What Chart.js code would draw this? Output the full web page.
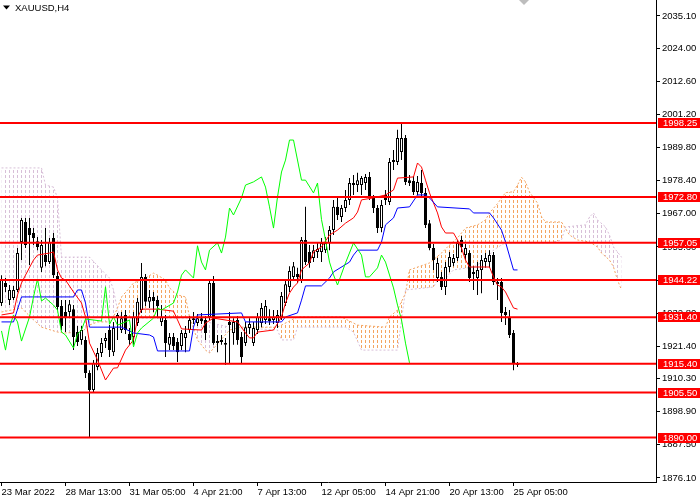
<!DOCTYPE html>
<html>
<head>
<meta charset="utf-8">
<script src="https://cdn.jsdelivr.net/npm/chart.js@4.4.0/dist/chart.umd.min.js"></script>
<style>
  html, body { margin: 0; padding: 0; background: #fff; }
  #wrap { position: relative; width: 700px; height: 500px; }
</style>
</head>
<body>
<div id="wrap"><canvas id="chart" width="700" height="500"></canvas></div>
<script>
// XAUUSD H4, one entry per bar (bar 0 = 23 Mar 2022)
const opens = [
  1936.3, 1943.2, 1937.3, 1938.0, 1940.8, 1957.3, 1964.2, 1962.1, 1960.4, 1957.6,
  1948.4, 1952.8, 1950.4, 1958.7, 1945.6, 1935.3, 1933.2, 1933.2, 1934.2, 1926.3,
  1923.6, 1923.6, 1912.2, 1906.4, 1914.3, 1919.1, 1923.2, 1927.0, 1919.4, 1931.1,
  1927.0, 1932.2, 1925.6, 1924.6, 1929.4, 1933.9, 1945.3, 1936.7, 1938.4, 1937.3,
  1929.8, 1930.5, 1921.9, 1924.6, 1922.9, 1921.5, 1924.3, 1927.0, 1930.5, 1929.4,
  1931.1, 1930.5, 1931.5, 1943.2, 1923.2, 1922.9, 1922.5, 1929.8, 1926.0, 1930.5,
  1924.6, 1922.5, 1927.7, 1922.5, 1927.0, 1929.4, 1930.5, 1931.1, 1930.5, 1929.4,
  1931.5, 1936.3, 1941.8, 1945.3, 1946.3, 1944.2, 1958.0, 1953.9, 1951.8, 1953.9,
  1953.9, 1954.5, 1957.0, 1961.4, 1969.4, 1965.9, 1969.0, 1971.8, 1976.9, 1976.9,
  1976.9, 1977.6, 1979.7, 1972.5, 1969.0, 1962.1, 1973.5, 1971.1, 1984.8, 1984.8,
  1988.3, 1993.1, 1978.6, 1978.3, 1974.5, 1977.6, 1974.2, 1963.8, 1955.2, 1944.9,
  1945.3, 1941.8, 1948.7, 1950.1, 1951.8, 1958.0, 1952.8, 1953.5, 1947.0, 1944.9,
  1947.7, 1950.4, 1950.4, 1952.8, 1943.5, 1943.5, 1933.2, 1931.5, 1926.0, 1915.7
]
const highs = [
  1945.9, 1944.9, 1942.5, 1942.2, 1955.2, 1965.6, 1965.6, 1965.6, 1962.1, 1959.0,
  1958.0, 1962.1, 1958.7, 1960.4, 1947.0, 1937.3, 1937.3, 1937.3, 1935.6, 1928.4,
  1928.4, 1924.9, 1913.2, 1916.7, 1920.8, 1924.3, 1926.0, 1928.7, 1929.8, 1932.9,
  1933.2, 1933.9, 1927.7, 1933.2, 1938.0, 1950.1, 1946.3, 1940.8, 1940.1, 1938.7,
  1935.6, 1932.2, 1926.0, 1926.0, 1924.3, 1927.0, 1928.4, 1931.8, 1933.2, 1932.5,
  1932.9, 1931.8, 1944.2, 1945.6, 1925.3, 1925.3, 1924.3, 1933.2, 1931.1, 1931.8,
  1926.3, 1929.8, 1931.1, 1929.8, 1932.9, 1936.3, 1937.3, 1934.2, 1933.9, 1933.9,
  1940.1, 1944.2, 1949.0, 1950.4, 1948.4, 1959.0, 1969.4, 1956.3, 1956.3, 1957.0,
  1958.7, 1959.0, 1962.8, 1971.8, 1973.1, 1970.0, 1975.2, 1979.3, 1980.4, 1981.1,
  1980.0, 1980.7, 1981.4, 1973.5, 1970.0, 1971.8, 1975.2, 1986.2, 1989.0, 1995.9,
  1998.3, 1994.1, 1980.4, 1980.0, 1980.0, 1982.1, 1975.9, 1964.9, 1956.6, 1951.8,
  1947.0, 1950.4, 1953.9, 1953.2, 1958.0, 1959.4, 1956.6, 1954.5, 1949.0, 1950.4,
  1952.8, 1953.5, 1954.5, 1953.9, 1944.9, 1944.9, 1934.9, 1933.9, 1927.0, 1916.0
]
const lows = [
  1935.3, 1940.1, 1935.6, 1937.3, 1940.1, 1951.1, 1955.2, 1949.4, 1956.3, 1954.5,
  1947.0, 1949.0, 1949.7, 1944.9, 1933.9, 1927.0, 1926.3, 1931.1, 1920.1, 1921.5,
  1921.9, 1910.5, 1890.2, 1905.7, 1913.2, 1917.7, 1920.8, 1917.7, 1918.1, 1923.6,
  1926.0, 1925.6, 1921.9, 1921.9, 1928.4, 1932.9, 1935.3, 1934.6, 1933.2, 1931.1,
  1928.4, 1917.7, 1920.1, 1920.1, 1916.0, 1920.1, 1919.4, 1926.0, 1929.1, 1928.4,
  1929.1, 1923.6, 1930.5, 1921.9, 1919.4, 1921.9, 1915.0, 1915.7, 1921.9, 1921.9,
  1915.7, 1921.5, 1925.6, 1921.5, 1925.6, 1928.0, 1929.1, 1928.7, 1929.1, 1927.7,
  1930.5, 1935.3, 1940.1, 1944.2, 1943.2, 1943.2, 1949.4, 1948.4, 1950.4, 1951.8,
  1950.4, 1953.5, 1954.5, 1959.7, 1964.9, 1964.2, 1967.6, 1970.0, 1973.5, 1974.5,
  1973.5, 1975.2, 1971.8, 1967.3, 1960.4, 1960.7, 1970.0, 1970.0, 1982.1, 1983.8,
  1985.5, 1976.9, 1976.6, 1973.5, 1973.5, 1973.1, 1962.1, 1954.5, 1947.7, 1943.5,
  1940.8, 1939.1, 1947.0, 1949.0, 1950.8, 1953.9, 1951.1, 1943.5, 1940.8, 1939.1,
  1939.7, 1948.4, 1948.4, 1942.5, 1937.3, 1929.8, 1928.7, 1924.3, 1913.2, 1914.3
]
const closes = [
  1944.2, 1941.8, 1940.8, 1940.8, 1953.5, 1964.9, 1956.3, 1959.7, 1958.7, 1955.6,
  1956.3, 1950.4, 1957.3, 1945.9, 1934.9, 1928.4, 1931.1, 1935.9, 1924.6, 1922.9,
  1927.0, 1912.2, 1906.4, 1915.7, 1919.1, 1922.5, 1924.3, 1920.1, 1927.7, 1932.2,
  1931.1, 1927.0, 1923.6, 1931.5, 1936.7, 1945.3, 1936.7, 1938.4, 1937.0, 1935.3,
  1931.5, 1922.5, 1924.6, 1921.5, 1919.4, 1926.0, 1926.0, 1930.5, 1931.1, 1931.1,
  1930.1, 1926.0, 1943.2, 1922.5, 1922.5, 1923.6, 1921.9, 1928.7, 1929.8, 1923.6,
  1917.7, 1928.0, 1929.1, 1927.7, 1931.5, 1934.6, 1935.3, 1930.1, 1931.5, 1932.2,
  1938.7, 1942.8, 1947.3, 1949.0, 1945.3, 1958.0, 1950.4, 1950.1, 1954.5, 1954.9,
  1957.0, 1957.0, 1961.4, 1969.4, 1966.6, 1969.0, 1971.8, 1977.6, 1977.6, 1978.6,
  1979.3, 1979.7, 1972.8, 1969.0, 1962.1, 1970.0, 1971.8, 1984.8, 1985.5, 1993.1,
  1993.1, 1978.0, 1977.6, 1974.5, 1978.0, 1974.2, 1963.2, 1955.2, 1951.1, 1950.1,
  1941.8, 1948.7, 1952.1, 1951.8, 1957.0, 1955.6, 1955.2, 1944.9, 1946.3, 1947.7,
  1951.1, 1951.8, 1952.8, 1943.5, 1942.8, 1932.9, 1932.2, 1925.3, 1915.7, 1915.0
]

// ichimoku lines as vertices: bar index + price
const tenkanBars = [0,3,4,5,6,8,9,12,13,14,15,16,18,20,21,22,24,26,28,29,31,33,34,35,39,43,44,45,50,51,53,59,61,62,63,64,68,70,71,72,73,74,75,77,78,80,82,84,86,88,89,90,93,96,98,99,103,104,105,106,107,109,110,111,113,114,115,116,117,122,123,124,125,126,128,129]
const tenkanVals = [1932.2,1932.9,1939.1,1943.2,1945.9,1951.1,1952.8,1953.5,1953.9,1947.7,1944.9,1944.2,1940.1,1936.3,1931.5,1922.5,1916.7,1909.8,1913.9,1914.0,1920.1,1923.6,1931.1,1934.2,1934.2,1933.5,1930.5,1927.4,1927.0,1929.4,1931.1,1929.8,1926.0,1924.3,1924.3,1926.3,1927.0,1931.5,1936.3,1939.7,1941.8,1943.2,1947.7,1950.1,1953.9,1955.6,1959.7,1961.4,1963.8,1965.6,1967.6,1971.8,1972.5,1973.5,1975.2,1979.3,1979.7,1984.5,1983.1,1978.6,1974.2,1967.3,1962.5,1960.4,1960.4,1958.0,1955.2,1951.1,1948.7,1948.7,1945.3,1942.5,1941.8,1940.1,1934.6,1934.2]

const kijunBars = [0,3,5,18,19,20,21,22,30,33,37,38,39,47,48,49,60,61,70,71,74,75,76,80,82,83,87,88,89,94,95,96,98,99,102,104,106,107,109,117,118,122,123,125,126,128,129]
const kijunVals = [1929.8,1929.8,1938.4,1938.4,1940.8,1940.8,1936.3,1928.0,1928.0,1926.0,1925.3,1924.6,1919.8,1919.8,1928.0,1932.2,1932.9,1929.8,1929.8,1931.5,1932.9,1937.3,1942.2,1942.2,1944.9,1947.0,1950.4,1952.8,1954.5,1954.5,1957.3,1963.2,1965.6,1969.0,1969.4,1973.5,1973.5,1972.5,1969.4,1968.7,1967.3,1967.3,1965.6,1961.4,1957.3,1947.7,1947.7]

const chikouBars = [0,1,2,3,4,5,7,8,9,10,11,13,14,15,16,18,19,20,21,25,26,27,28,29,31,32,33,34,35,38,39,40,43,44,45,46,48,49,50,51,52,54,55,56,57,58,60,61,63,65,66,67,68,69,70,71,72,73,75,76,78,79,80,81,82,83,84,86,88,90,91,92,94,95,96,98,99,100,101,102]
const chikouVals = [1926.7,1920.1,1928.0,1932.2,1929.8,1923.2,1931.5,1938.4,1944.6,1937.0,1938.0,1935.6,1933.9,1926.3,1925.3,1920.8,1925.6,1927.0,1930.8,1930.1,1941.9,1929.0,1931.5,1928.7,1929.8,1930.5,1921.2,1926.0,1927.7,1931.1,1934.6,1933.9,1936.3,1940.1,1945.9,1947.7,1944.9,1956.0,1950.4,1947.7,1954.5,1957.0,1953.5,1959.0,1969.0,1966.6,1972.5,1976.9,1978.0,1979.7,1976.2,1969.4,1962.1,1972.8,1981.4,1985.5,1992.4,1992.4,1978.6,1978.6,1974.2,1977.6,1965.0,1958.0,1950.4,1946.0,1942.5,1950.1,1957.0,1952.8,1945.3,1945.3,1948.4,1952.8,1950.4,1941.5,1935.6,1930.5,1922.5,1915.7]

const spanABars = [0,5,8,10,14,16,20,22,24,27,28,29,30,32,33,36,38,39,41,42,44,46,47,49,51,52,57,60,69,70,74,85,89,96,97,99,101,102,107,110,112,114,116,119,121,122,124,126,128,129,130,131,132,134,135,136,140,142,144,147,149,150,152,153,154,155]
const spanAVals = [1933.2,1934.6,1930.5,1928.0,1926.3,1926.0,1926.3,1928.7,1929.8,1929.8,1931.5,1934.6,1938.4,1941.5,1943.2,1944.9,1946.6,1945.9,1944.2,1941.5,1939.1,1938.4,1931.5,1923.6,1920.1,1919.1,1927.0,1928.0,1928.0,1928.7,1931.5,1931.5,1928.7,1928.0,1931.5,1933.9,1939.7,1947.7,1950.1,1953.5,1956.3,1958.7,1962.1,1963.2,1964.9,1967.3,1970.5,1974.3,1974.6,1976.9,1979.6,1978.0,1974.5,1970.7,1966.0,1964.2,1964.2,1959.7,1958.0,1957.3,1955.6,1953.5,1951.1,1948.7,1944.2,1940.8]

const spanBBars = [0,10,11,13,14,15,22,25,27,28,29,30,47,49,57,69,70,73,74,86,88,90,99,100,101,108,109,111,113,118,121,123,125,126,137,140,141,146,147,148,149,151,152,153,155]
const spanBVals = [1982.8,1982.8,1976.9,1976.2,1972.5,1952.1,1952.1,1947.7,1944.9,1940.8,1933.9,1931.1,1931.1,1930.5,1928.0,1927.0,1923.6,1923.6,1928.0,1928.0,1926.3,1920.1,1920.1,1930.5,1940.8,1941.8,1944.2,1944.9,1947.7,1948.7,1951.1,1954.5,1956.3,1957.0,1957.0,1958.0,1962.5,1963.2,1965.9,1967.3,1964.9,1962.5,1959.7,1955.6,1952.1]

// horizontal support / resistance levels
const levels = [1998.25, 1972.80, 1957.05, 1944.22, 1931.40, 1915.40, 1905.50, 1890.00]

const yTicks = [2035.10, 2024.00, 2012.60, 2001.20, 1989.80, 1978.40, 1967.00, 1955.60, 1944.20, 1932.80, 1921.40, 1910.30, 1898.90, 1887.50, 1876.10]
const xTickBars = [0, 16, 32, 48, 64, 80, 96, 112, 128]
const xTickLabels = ["23 Mar 2022", "28 Mar 13:00", "31 Mar 05:00", "4 Apr 21:00", "7 Apr 13:00", "12 Apr 05:00", "14 Apr 21:00", "20 Apr 13:00", "25 Apr 05:00"]

const X_MIN = -0.375, X_MAX = 163.625
const Y_MIN = 1874.7, Y_MAX = 2040.6
const FONT = 'Liberation Sans'

Chart.defaults.font.family = FONT
Chart.defaults.font.size = 9.5
Chart.defaults.color = '#000'

const pts = (bars, vals) => bars.map((b, i) => ({x: b, y: vals[i]}))

const wicks = opens.map((o, i) => ({x: i, y: [lows[i], highs[i]]}))
const bullBodies = []
const bearBodies = []
opens.forEach((o, i) => {
    const c = closes[i]
    if (c >= o) bullBodies.push({x: i, y: [o, c]})
    else bearBodies.push({x: i, y: [c, o]})
})

const lineBase = {type: "line", pointRadius: 0, borderWidth: 1, tension: 0, fill: false}
const barBase = {type: "bar", grouped: false, barPercentage: 1, categoryPercentage: 1, inflateAmount: 0, borderSkipped: false}

const datasets = [
    {...lineBase, label: "Senkou A", data: pts(spanABars, spanAVals), borderColor: "#F4A460", borderDash: [2, 2], order: 5},
    {...lineBase, label: "Senkou B", data: pts(spanBBars, spanBVals), borderColor: "#D8BFD8", borderDash: [2, 2], order: 5},
    {...barBase, label: "wicks", data: wicks, backgroundColor: "#000", borderWidth: 0, maxBarThickness: 1, order: 4},
    {...barBase, label: "bull", data: bullBodies, backgroundColor: "#fff", borderColor: "#000", borderWidth: 1, maxBarThickness: 3, minBarLength: 1, order: 3},
    {...barBase, label: "bear", data: bearBodies, backgroundColor: "#000", borderColor: "#000", borderWidth: 1, maxBarThickness: 3, minBarLength: 1, order: 3},
    {...lineBase, label: "Chikou", data: pts(chikouBars, chikouVals), borderColor: "#00ff00", order: 2},
    {...lineBase, label: "Kijun", data: pts(kijunBars, kijunVals), borderColor: "#0000ff", order: 2},
    {...lineBase, label: "Tenkan", data: pts(tenkanBars, tenkanVals), borderColor: "#ff0000", order: 2},
]
levels.forEach(v => {
    datasets.push({...lineBase, label: "level", data: [{x: X_MIN, y: v}, {x: X_MAX, y: v}], borderColor: "#ff0000", borderWidth: 2, order: 1})
})

// cloud hatch: dashed vertical strokes at every bar, clipped between the two span lines
const cloudHatch = {
    id: "cloudHatch",
    beforeDatasetsDraw(chart) {
        const {ctx, chartArea: area} = chart
        const xs = chart.scales.x
        const a = chart.getDatasetMeta(0).data
        const b = chart.getDatasetMeta(1).data
        const clipSide = (p, edge) => {
            ctx.beginPath()
            ctx.moveTo(p[0].x, edge)
            p.forEach(pt => ctx.lineTo(pt.x, pt.y))
            ctx.lineTo(p[p.length - 1].x, edge)
            ctx.closePath()
            ctx.clip()
        }
        const stripes = color => {
            ctx.strokeStyle = color
            ctx.lineWidth = 1
            ctx.setLineDash([3, 2])
            ctx.beginPath()
            for (let i = 0; i <= Math.floor(xs.max); i++) {
                const px = xs.getPixelForValue(i)
                ctx.moveTo(px, area.top)
                ctx.lineTo(px, area.bottom)
            }
            ctx.stroke()
        }
        ctx.save()
        clipSide(a, area.bottom)
        clipSide(b, area.top)
        stripes("#F4A460")
        ctx.restore()
        ctx.save()
        clipSide(b, area.bottom)
        clipSide(a, area.top)
        stripes("#D8BFD8")
        ctx.restore()
    }
}

// red price tags on the axis + symbol caption
const overlay = {
    id: "overlay",
    afterDraw(chart) {
        const {ctx, chartArea} = chart
        const y = chart.scales.y
        ctx.save()
        ctx.font = "9.5px '" + FONT + "'"
        ctx.textBaseline = "middle"
        ctx.textAlign = "left"
        levels.forEach(v => {
            const py = Math.round(y.getPixelForValue(v))
            ctx.fillStyle = "#ff0000"
            ctx.fillRect(chartArea.right + 2, py - 5, 44, 10)
            ctx.fillStyle = "#fff"
            ctx.fillText(v.toFixed(2), chartArea.right + 7, py + 0.5)
        })
        ctx.fillStyle = "#000"
        ctx.beginPath()
        ctx.moveTo(3, 5.5)
        ctx.lineTo(10, 5.5)
        ctx.lineTo(6.5, 9.5)
        ctx.closePath()
        ctx.fill()
        ctx.fillText("XAUUSD,H4", 15, 8)
        ctx.fillStyle = "#bdbdbd"
        ctx.beginPath()
        ctx.moveTo(519, 0)
        ctx.lineTo(529, 0)
        ctx.lineTo(524, 5)
        ctx.closePath()
        ctx.fill()
        ctx.restore()
    }
}

new Chart(document.getElementById("chart"), {
    type: "line",
    data: {datasets},
    plugins: [cloudHatch, overlay],
    options: {
        responsive: false,
        animation: false,
        layout: {padding: 0},
        plugins: {legend: {display: false}, tooltip: {enabled: false}},
        scales: {
            x: {
                type: "linear",
                min: X_MIN,
                max: X_MAX,
                offset: false,
                grid: {drawOnChartArea: false, drawTicks: true, tickLength: 4, color: "#000", offset: false},
                border: {display: true, color: "#000"},
                ticks: {autoSkip: false, maxRotation: 0, align: "start", padding: 1, callback: (v, i) => xTickLabels[i]},
                afterBuildTicks: s => { s.ticks = xTickBars.map(v => ({value: v})) },
                afterFit: s => { s.height = 18; s.paddingLeft = 0; s.paddingRight = 0 }
            },
            y: {
                type: "linear",
                position: "right",
                min: Y_MIN,
                max: Y_MAX,
                beginAtZero: false,
                grid: {drawOnChartArea: false, drawTicks: true, tickLength: 4, color: "#000"},
                border: {display: true, color: "#000"},
                ticks: {autoSkip: false, padding: 2, callback: v => Number(v).toFixed(2)},
                afterBuildTicks: s => { s.ticks = yTicks.map(v => ({value: v})) },
                afterFit: s => { s.width = 44; s.paddingTop = 0; s.paddingBottom = 0 }
            }
        }
    }
})
</script>
</body>
</html>
